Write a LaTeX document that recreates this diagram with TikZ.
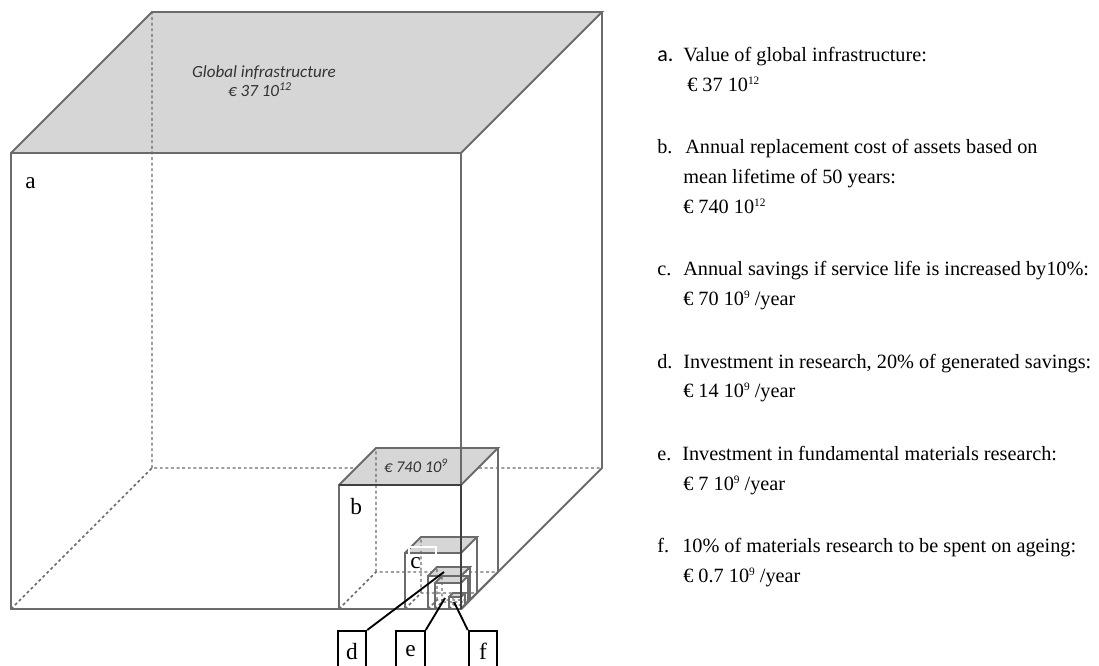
\documentclass[tikz,border=0pt]{standalone}
\usepackage{fontspec}
\setmainfont{Liberation Serif}
\newfontfamily\calfont{Carlito}
\usetikzlibrary{calc}
\usetikzlibrary{positioning}
\newcommand{\expo}[1]{\raisebox{0.75ex}{\fontsize{8.5}{9}\selectfont #1}}

\begin{document}
\begin{tikzpicture}[x=0.75pt, y=-0.75pt,
    edge/.style={draw=black!58, line width=1.4pt},
    hidden/.style={draw=black!58, line width=1.1pt, dash pattern=on 2.2pt off 2pt},
    topface/.style={fill=black!16},
    txt/.style={anchor=base west, inner sep=0pt, font=\fontsize{15.2}{18}\selectfont},
    cubelabel/.style={anchor=base west, inner sep=0pt, font=\fontsize{17.5}{20}\selectfont},
    facelabel/.style={anchor=base, inner sep=0pt, text=black!80, font=\calfont\itshape\fontsize{12.8}{15}\selectfont},
    tag/.style={draw=black, line width=1.4pt, anchor=north, minimum width=21.5pt, minimum height=31pt, inner sep=0pt, font=\fontsize{17.5}{20}\selectfont},
    leader/.style={draw=black, line width=1.4pt}]
            \useasboundingbox (0, 0) rectangle (1099, 665);
            \clip (0, 0) rectangle (1099, 665);
            \foreach \n/\lx/\ty/\dd in {a/11/153/141, b/339/485/37, c/405/553/16, d/428/576/9, e/435/583/7, f/449/597/4}
            {
                \coordinate (\n1) at (\lx, 609);
                \coordinate (\n2) at (461, 609);
                \coordinate (\n3) at (461, \ty);
                \coordinate (\n4) at (\lx, \ty);
                \coordinate (\n5) at (\lx+\dd, \ty-\dd);
                \coordinate (\n6) at (461+\dd, \ty-\dd);
                \coordinate (\n7) at (461+\dd, 609-\dd);
                \coordinate (\n8) at (\lx+\dd, 609-\dd);
                \fill[topface] (\n4) -- (\n3) -- (\n6) -- (\n5) -- cycle;
                \draw[hidden] (\n1) -- (\n8) -- (\n7) (\n8) -- (\n5);
            }
            \foreach \n in {a, b, c, d, e, f}
            {
                \draw[edge] (\n1) -- (\n2) -- (\n3) -- (\n4) -- cycle;
                \draw[edge] (\n4) -- (\n5) -- (\n6) -- (\n3) (\n6) -- (\n7) -- (\n2);
            }
            \draw[edge, draw=black!75] (b4) -- (b3) -- (b2);
            \node[facelabel] (glob) at (264, 77) {Global infrastructure};
            \node[facelabel] (globval) at (260, 96) {€ 37 10\textsuperscript{12}};
            \node[facelabel, font=\calfont\itshape\fontsize{12.3}{14}\selectfont] (repval) at (416, 472) {€ 740 10\textsuperscript{9}};
            \node[cubelabel] (laba) at (25, 188) {a};
            \node[cubelabel] (labb) at (350, 514) {b};
            \draw[white, line width=1.4pt] (409, 561) |- (436, 547) -- (436, 558);
            \node[cubelabel] (labc) at (410, 568) {c};
            \coordinate (pd) at (444, 572);
            \coordinate (pe) at (445, 598);
            \coordinate (pf) at (454, 602);
            \node[tag] (tagd) at (352, 630) {d};
            \node[tag] (tage) at (410.5, 630) {e};
            \node[tag] (tagf) at (483, 630) {f};
            \draw[leader] (tagd.north east) -- (pd);
            \draw[leader] (tage.north east) -- (pe);
            \draw[leader] (tagf.north west) -- (pf);
            \node[txt, font=\calfont\fontsize{16.5}{19}\selectfont] (itema) at (657, 61) {a.};
            \foreach \y/\l in {153/b, 275/c, 368/d, 460/e, 552/f}
            {
                \node[txt] (item\l) at (657, \y) {\l.};
            }
            \foreach \y/\x/\t[count=\i from 1] in {61/683/{Value of global infrastructure:},
                91/687/{€ 37 10\expo{12}},
                153/685/{Annual replacement cost of assets based on},
                183/683/{mean lifetime of 50 years:},
                213/683/{€ 740 10\expo{12}},
                275/683/{Annual savings if service life is increased by10\%:},
                305/683/{€ 70 10\expo{9} /year},
                368/683/{Investment in research, 20\% of generated savings:},
                397/683/{€ 14 10\expo{9} /year},
                460/682/{Investment in fundamental materials research:},
                490/683/{€ 7 10\expo{9} /year},
                552/682/{10\% of materials research to be spent on ageing:},
                582/683/{€ 0.7 10\expo{9} /year}}
            {
                \node[txt] (line\i) at (\x, \y) {\t};
            }
        \end{tikzpicture}
\end{document}
